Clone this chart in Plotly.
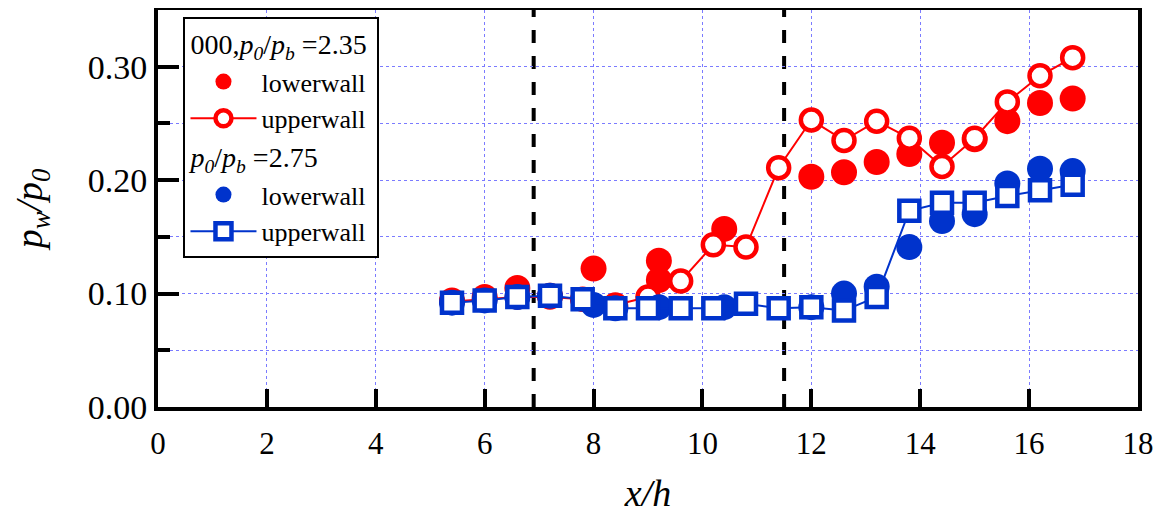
import plotly.graph_objects as go

# ---- data ----
x_upper = [5.4, 6.0, 6.6, 7.2, 7.8, 8.4, 9.0, 9.6, 10.2, 10.8, 11.4, 12.0, 12.6, 13.2, 13.8, 14.4, 15.0, 15.6, 16.2, 16.8]
red_upper = [0.093, 0.095, 0.097, 0.097, 0.095, 0.090, 0.097, 0.111, 0.143, 0.141, 0.211, 0.253, 0.235, 0.252, 0.237, 0.212, 0.237, 0.269, 0.292, 0.308]
blue_upper = [0.092, 0.094, 0.097, 0.098, 0.095, 0.087, 0.087, 0.087, 0.087, 0.091, 0.087, 0.088, 0.085, 0.097, 0.173, 0.180, 0.180, 0.186, 0.191, 0.196]

x_lower_red = [5.4, 6.0, 6.6, 7.2, 8.0, 8.4, 9.2, 9.2, 10.4, 12.0, 12.6, 13.2, 13.8, 14.4, 15.0, 15.6, 16.2, 16.8]
red_lower = [0.094, 0.097, 0.105, 0.098, 0.122, 0.089, 0.129, 0.112, 0.157, 0.203, 0.207, 0.216, 0.223, 0.233, 0.236, 0.252, 0.268, 0.272]

x_lower_blue = [5.4, 6.0, 6.6, 7.2, 8.0, 8.4, 9.2, 10.4, 12.0, 12.6, 13.2, 13.8, 14.4, 15.0, 15.6, 16.2, 16.8]
blue_lower = [0.092, 0.094, 0.097, 0.098, 0.090, 0.087, 0.088, 0.088, 0.088, 0.100, 0.106, 0.141, 0.164, 0.170, 0.197, 0.210, 0.208]

boundaries = [6.9, 11.5]

group1_title = "000,<i>p<sub>0</sub></i>/<i>p<sub>b</sub></i> =2.35"
group2_title = "<i>p<sub>0</sub></i>/<i>p<sub>b</sub></i> =2.75"

RED = "#FF0000"
BLUE = "#0033CC"
FONT = "Liberation Serif"
GRID = "#7B7BFF"

fig = go.Figure()

fig.add_trace(go.Scatter(
    x=x_lower_red, y=red_lower, mode="markers", name="lowerwall",
    legendgroup="g1", legendgrouptitle=dict(text=group1_title, font=dict(size=28, family=FONT, color="black")),
    marker=dict(symbol="circle", size=26, color=RED, line=dict(width=0)),
))
fig.add_trace(go.Scatter(
    x=x_upper, y=red_upper, mode="lines+markers", name="upperwall",
    legendgroup="g1",
    line=dict(color=RED, width=2),
    marker=dict(symbol="circle", size=21, color="white", line=dict(color=RED, width=4.5)),
))
fig.add_trace(go.Scatter(
    x=x_lower_blue, y=blue_lower, mode="markers", name="lowerwall",
    legendgroup="g2", legendgrouptitle=dict(text=group2_title, font=dict(size=28, family=FONT, color="black")),
    marker=dict(symbol="circle", size=26, color=BLUE, line=dict(width=0)),
))
fig.add_trace(go.Scatter(
    x=x_upper, y=blue_upper, mode="lines+markers", name="upperwall",
    legendgroup="g2",
    line=dict(color=BLUE, width=2),
    marker=dict(symbol="square", size=20, color="white", line=dict(color=BLUE, width=4.5)),
))

for b in boundaries:
    fig.add_vline(x=b, line=dict(color="black", width=4, dash="13px,13px"), layer="below")

fig.update_layout(
    width=1164, height=520,
    margin=dict(l=150, r=34, t=2, b=121, autoexpand=False),
    paper_bgcolor="white", plot_bgcolor="white",
    font=dict(family=FONT, color="black"),
    showlegend=True,
    legend=dict(
        x=0.026, y=0.983, xanchor="left", yanchor="top",
        bgcolor="white", bordercolor="black", borderwidth=2,
        font=dict(size=26, family=FONT, color="black"),
        tracegroupgap=0, itemwidth=66, traceorder="grouped",
    ),
    xaxis=dict(
        range=[0, 18], dtick=2, tick0=0, automargin=False,
        showline=True, mirror=True, linewidth=4, linecolor="black",
        ticks="inside", ticklen=18, tickwidth=4, tickcolor="black",
        showgrid=True, gridcolor=GRID, gridwidth=1, griddash="dot",
        zeroline=False,
        tickfont=dict(size=31, family=FONT),
        ticklabelstandoff=6,
        title=dict(text="<i>x/h</i>", font=dict(size=38, family=FONT), standoff=20),
    ),
    yaxis=dict(
        range=[0, 0.35], dtick=0.1, tick0=0, tickformat=".2f", automargin=False,
        showline=True, mirror=True, linewidth=4, linecolor="black",
        ticks="inside", ticklen=21, tickwidth=4, tickcolor="black",
        showgrid=True, gridcolor=GRID, gridwidth=1, griddash="dot",
        minor=dict(dtick=0.05, ticks="inside", ticklen=12, tickwidth=4, tickcolor="black",
                   showgrid=True, gridcolor=GRID, gridwidth=1, griddash="dot"),
        zeroline=False,
        tickfont=dict(size=34, family=FONT),
        title=dict(text="<i>p<sub>w</sub>/p<sub>0</sub></i>", font=dict(size=38, family=FONT), standoff=40),
    ),
)

fig.write_html("out.html")
